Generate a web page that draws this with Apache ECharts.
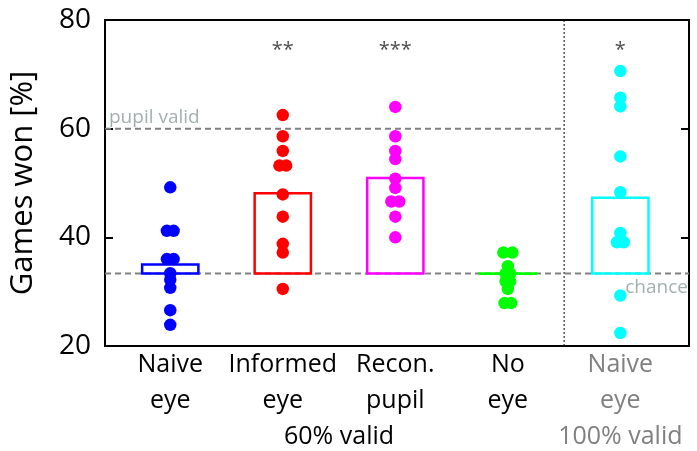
<!DOCTYPE html>
<html>
<head>
<meta charset="utf-8">
<script src="https://cdn.jsdelivr.net/npm/echarts@6/dist/echarts.min.js"></script>
<style>html,body{margin:0;padding:0;background:#fff}#c{width:697px;height:451px}</style>
</head>
<body>
<div id="c"></div>
<script>
// ---- data ----
const catLabels = [['Naive','eye'], ['Informed','eye'], ['Recon.','pupil'], ['No','eye'], ['Naive','eye','100% valid']];
const catPos = [1, 2, 3, 4, 5];
const groupLabel = '60% valid';
const groupPos = 2.5;
const colors = ['#0000ff', '#ff0000', '#ff00ff', '#00ff00', '#00ffff'];
const means = [35.0, 48.1, 50.9, 33.3, 47.3];
const naiveEye   = [49.2, 41.2, 41.2, 36.0, 36.0, 33.4, 32.2, 30.7, 26.6, 23.9];
const naiveOff   = [0, -0.03, 0.03, -0.03, 0.03, 0, 0, 0, 0, 0];
const informedEye = [62.5, 58.6, 55.9, 53.2, 53.2, 47.9, 43.8, 38.8, 37.2, 30.5];
const informedOff = [0, 0, 0, -0.03, 0.03, 0, 0, 0, 0, 0];
const reconPupil = [64.0, 58.6, 55.9, 54.4, 50.8, 49.1, 46.6, 46.6, 43.8, 40.0];
const reconOff   = [0, 0, 0, 0, 0, 0, -0.035, 0.035, 0, 0];
const noEye      = [37.2, 37.2, 34.7, 33.3, 33.3, 31.9, 31.9, 30.5, 27.9, 27.9];
const noEyeOff   = [-0.04, 0.04, 0, -0.02, 0.02, -0.02, 0.02, 0, -0.03, 0.03];
const naiveFull  = [70.6, 65.7, 64.1, 54.9, 48.3, 40.8, 39.1, 39.1, 29.3, 22.4];
const naiveFullOff = [0, 0, 0, 0, 0, 0, -0.03, 0.03, 0, 0];
const sigMarks = ['', '**', '***', '', '*'];
const sigY = 74.4;
const chance = 100 / 3;
const pupilValid = 60;
const dividerX = 4.5;
const yTicks = [20, 40, 60, 80];
const xMin = 0.42, xMax = 5.61;
const barHalf = 0.25;

// ---- chart ----
const groups = [naiveEye, informedEye, reconPupil, noEye, naiveFull];
const offs = [naiveOff, informedOff, reconOff, noEyeOff, naiveFullOff];
const FONT = 'Open Sans';
const chart = echarts.init(document.getElementById('c'), null, {renderer: 'canvas'});

const scatterSeries = groups.map((g, i) => ({
  type: 'scatter',
  data: g.map((v, j) => [catPos[i] + offs[i][j], v]),
  symbolSize: 12.5,
  itemStyle: {color: colors[i], opacity: 1},
  z: 5,
  silent: true
}));

const dashStyle = {color: '#808080', width: 2, type: [6, 4]};

function labelFmt(value) {
  const v = Math.round(value * 10) / 10;
  if (v === groupPos) return '{b|\u00a0}\n{b|\u00a0}\n{b|' + groupLabel + '}';
  const i = catPos.indexOf(v);
  if (i < 0) return '';
  const st = i === 4 ? 'g' : 'b';
  return catLabels[i].map(t => '{' + st + '|' + t + '}').join('\n');
}

chart.setOption({
  animation: false,
  grid: {left: 105, right: 8, top: 20, bottom: 105, show: true, borderColor: '#000', borderWidth: 2, backgroundColor: 'transparent'},
  xAxis: {
    type: 'value', min: xMin, max: xMax,
    splitLine: {show: false},
    axisLine: {show: true, lineStyle: {color: '#000', width: 2}},
    axisTick: {show: false},
    axisLabel: {
      customValues: catPos.slice(0, 2).concat([groupPos], catPos.slice(2)),
      formatter: labelFmt,
      margin: 1,
      verticalAlign: 'top',
      rich: {
        b: {fontFamily: FONT, fontSize: 25, color: '#000', lineHeight: 36},
        g: {fontFamily: FONT, fontSize: 25, color: '#808080', lineHeight: 36}
      }
    }
  },
  yAxis: [{
    type: 'value', min: 20, max: 80, interval: 20,
    name: 'Games won [%]', nameLocation: 'middle', nameGap: 66,
    nameTextStyle: {fontFamily: FONT, fontSize: 31, color: '#000'},
    splitLine: {show: false},
    axisLine: {show: true, lineStyle: {color: '#000', width: 2}},
    axisTick: {show: true, inside: true, length: 8, lineStyle: {color: '#000', width: 2}},
    axisLabel: {fontFamily: FONT, fontSize: 28, color: '#000', margin: 14,
      customValues: yTicks}
  }, {
    type: 'value', min: 20, max: 80, interval: 20, position: 'right',
    splitLine: {show: false},
    axisLine: {show: true, lineStyle: {color: '#000', width: 2}},
    axisTick: {show: true, inside: true, length: 8, lineStyle: {color: '#000', width: 2}},
    axisLabel: {show: false}
  }],
  series: [
    {
      type: 'line', data: [[xMin, chance], [xMax, chance]], symbol: 'none',
      lineStyle: dashStyle, z: 1, silent: true
    },
    {
      type: 'line', data: [[xMin, pupilValid], [dividerX, pupilValid]], symbol: 'none',
      lineStyle: dashStyle, z: 1, silent: true
    },
    {
      type: 'line', data: [[dividerX, 20], [dividerX, 80]], symbol: 'none',
      lineStyle: {color: '#000', width: 1, type: [2, 2]}, z: 1, silent: true
    },
    {
      type: 'custom', z: 3, silent: true,
      data: means.map((m, i) => [catPos[i], m]),
      renderItem: function (params, api) {
        const x = api.value(0), m = api.value(1);
        const p1 = api.coord([x - barHalf, chance]);
        const p2 = api.coord([x + barHalf, m]);
        return {
          type: 'rect',
          shape: {x: p1[0], y: Math.min(p1[1], p2[1]), width: p2[0] - p1[0], height: Math.abs(p2[1] - p1[1])},
          style: {fill: 'none', stroke: colors[params.dataIndex], lineWidth: 2.5}
        };
      }
    },
    ...scatterSeries,
    {
      type: 'scatter', symbolSize: 0, silent: true, z: 6,
      data: sigMarks.map((s, i) => ({value: [catPos[i], sigY], label: {show: !!s, formatter: s}})),
      label: {position: 'inside', fontFamily: FONT, fontSize: 20, color: '#222'}
    },
    {
      type: 'scatter', symbolSize: 0, silent: true, z: 6,
      data: [
        {value: [xMin, pupilValid], label: {show: true, formatter: 'pupil valid', position: 'right', distance: 4, offset: [0, -11]}},
        {value: [xMax, chance], label: {show: true, formatter: 'chance', position: 'left', distance: 1, offset: [0, 14]}}
      ],
      label: {fontFamily: FONT, fontSize: 19, color: '#8c9b9b'}
    }
  ]
});
</script>
</body>
</html>
